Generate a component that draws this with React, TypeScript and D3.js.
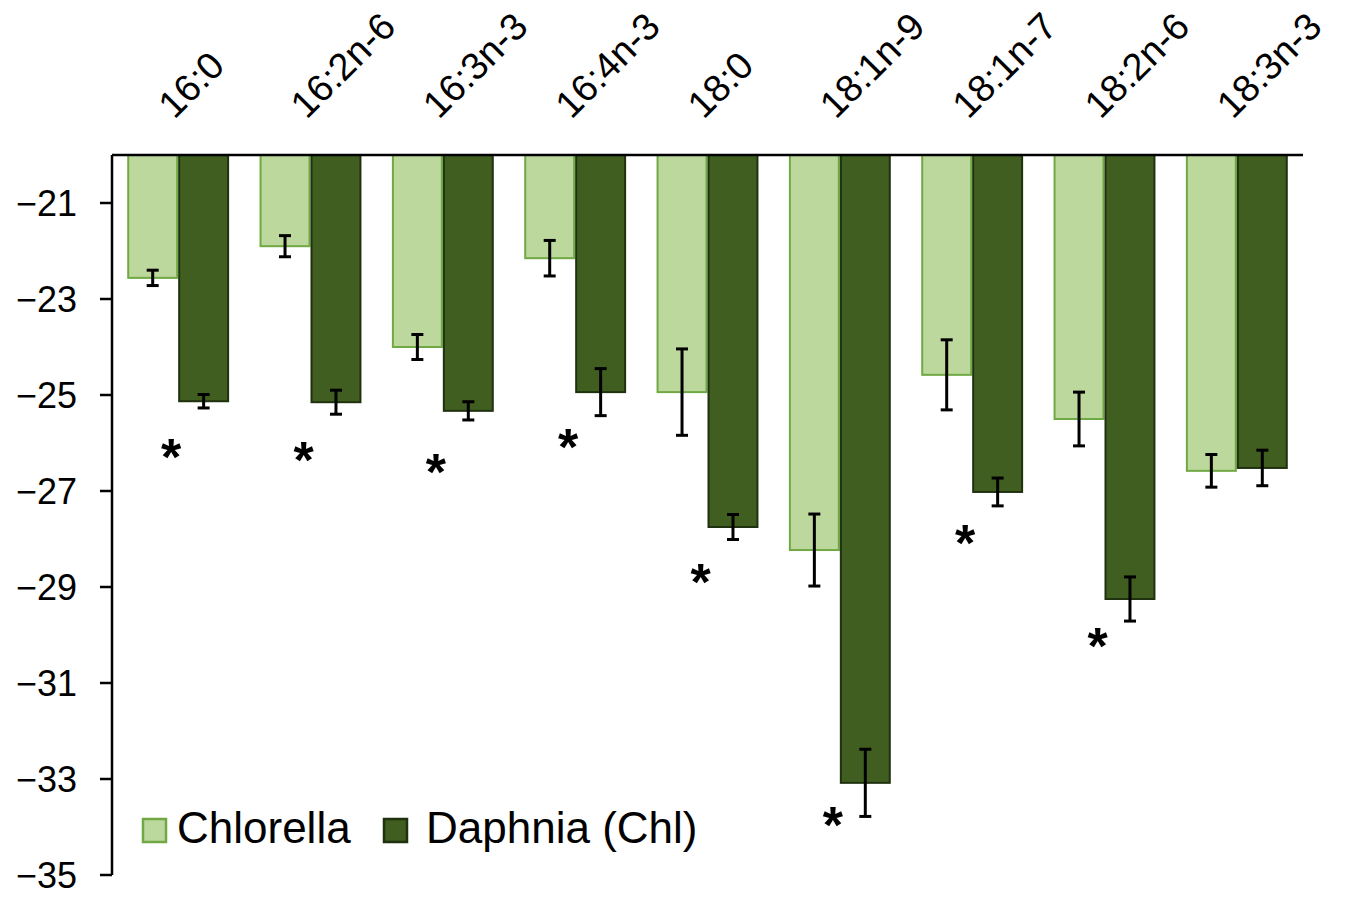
import React from 'react';
import * as d3 from 'd3';

const categories = ['16:0', '16:2n-6', '16:3n-3', '16:4n-3', '18:0', '18:1n-9', '18:1n-7', '18:2n-6', '18:3n-3'];
const seriesNames = ['Chlorella', 'Daphnia (Chl)'];
const chlorella = [-22.56, -21.9, -24.0, -22.15, -24.94, -28.23, -24.58, -25.5, -26.58];
const chlorellaErr = [0.16, 0.22, 0.26, 0.37, 0.9, 0.75, 0.73, 0.56, 0.34];
const daphnia = [-25.13, -25.15, -25.33, -24.94, -27.75, -33.08, -27.02, -29.25, -26.52];
const daphniaErr = [0.14, 0.25, 0.19, 0.49, 0.26, 0.7, 0.29, 0.46, 0.37];
// where the significance asterisks sit (null = none)
const starAt: (number | null)[] = [-26.15, -26.21, -26.46, -25.94, -28.75, -33.81, -27.94, -30.08, null];
const yTicks = [-21, -23, -25, -27, -29, -31, -33, -35];

const fills = ['#bdd89c', '#3f5e1f'];
const strokes = ['#70a844', '#1f310f'];
const font = '"Liberation Sans", Arial, sans-serif';

export default function App() {
  const width = 1361;
  const height = 900;
  const left = 112;
  const right = 1303;
  const top = 155;
  const bottom = 875;

  const x = d3.scaleBand<string>().domain(categories).range([left, right])
    .paddingInner(0.23).paddingOuter(0.115);
  const sub = d3.scaleBand<string>().domain(seriesNames).range([0, x.bandwidth()]);
  const y = d3.scaleLinear().domain([-20, -35]).range([top, bottom]);

  const series = [
    { name: seriesNames[0], values: chlorella, errs: chlorellaErr },
    { name: seriesNames[1], values: daphnia, errs: daphniaErr },
  ];

  return (
    <svg width={width} height={height} style={{ position: 'absolute', left: 0, top: 0, background: '#fff' }}
      fontFamily={font}>
      {series.map((s, si) => (
        <g key={s.name}>
          {categories.map((c, i) => {
            const bx = (x(c) as number) + (sub(s.name) as number);
            const v = s.values[i];
            return (
              <rect key={c} x={bx + 1} y={y(-20)} width={sub.bandwidth() - 2} height={y(v) - y(-20)}
                fill={fills[si]} stroke={strokes[si]} strokeWidth={2} />
            );
          })}
        </g>
      ))}
      {series.map((s) => (
        <g key={s.name + '-err'} stroke="#000" strokeWidth={3}>
          {categories.map((c, i) => {
            const cx = (x(c) as number) + (sub(s.name) as number) + sub.bandwidth() / 2;
            const y1 = y(s.values[i] + s.errs[i]);
            const y2 = y(s.values[i] - s.errs[i]);
            return (
              <g key={c}>
                <line x1={cx} x2={cx} y1={y1} y2={y2} />
                <line x1={cx - 6} x2={cx + 6} y1={y1} y2={y1} />
                <line x1={cx - 6} x2={cx + 6} y1={y2} y2={y2} />
              </g>
            );
          })}
        </g>
      ))}
      {categories.map((c, i) => starAt[i] === null ? null : (
        <text key={c + '-star'} x={(x(c) as number) + x.bandwidth() / 2 - 7} y={y(starAt[i] as number) + 25}
          fontSize={52} fontWeight="bold" textAnchor="middle" fill="#000">*</text>
      ))}
      {/* axes */}
      <line x1={left} x2={right} y1={top} y2={top} stroke="#000" strokeWidth={2.5} />
      <line x1={left} x2={left} y1={top} y2={bottom} stroke="#000" strokeWidth={2.5} />
      {yTicks.map((t) => (
        <g key={t}>
          <line x1={left - 12} x2={left} y1={y(t)} y2={y(t)} stroke="#000" strokeWidth={2.5} />
          <text x={77} y={y(t) + 13} fontSize={36} textAnchor="end" fill="#000">
            {'\u2212' + Math.abs(t)}
          </text>
        </g>
      ))}
      {categories.map((c) => {
        const cx = (x(c) as number) + x.bandwidth() / 2 - 4;
        return (
          <text key={c} transform={`translate(${cx},120) rotate(-45)`} fontSize={38} fill="#000">{c}</text>
        );
      })}
      {/* legend */}
      <rect x={143} y={819} width={23} height={23} fill={fills[0]} stroke={strokes[0]} strokeWidth={2.5} />
      <text x={177} y={843} fontSize={44} fill="#000">{seriesNames[0]}</text>
      <rect x={384} y={819} width={23} height={23} fill={fills[1]} stroke={strokes[1]} strokeWidth={2.5} />
      <text x={426} y={843} fontSize={44} fill="#000">{seriesNames[1]}</text>
    </svg>
  );
}
